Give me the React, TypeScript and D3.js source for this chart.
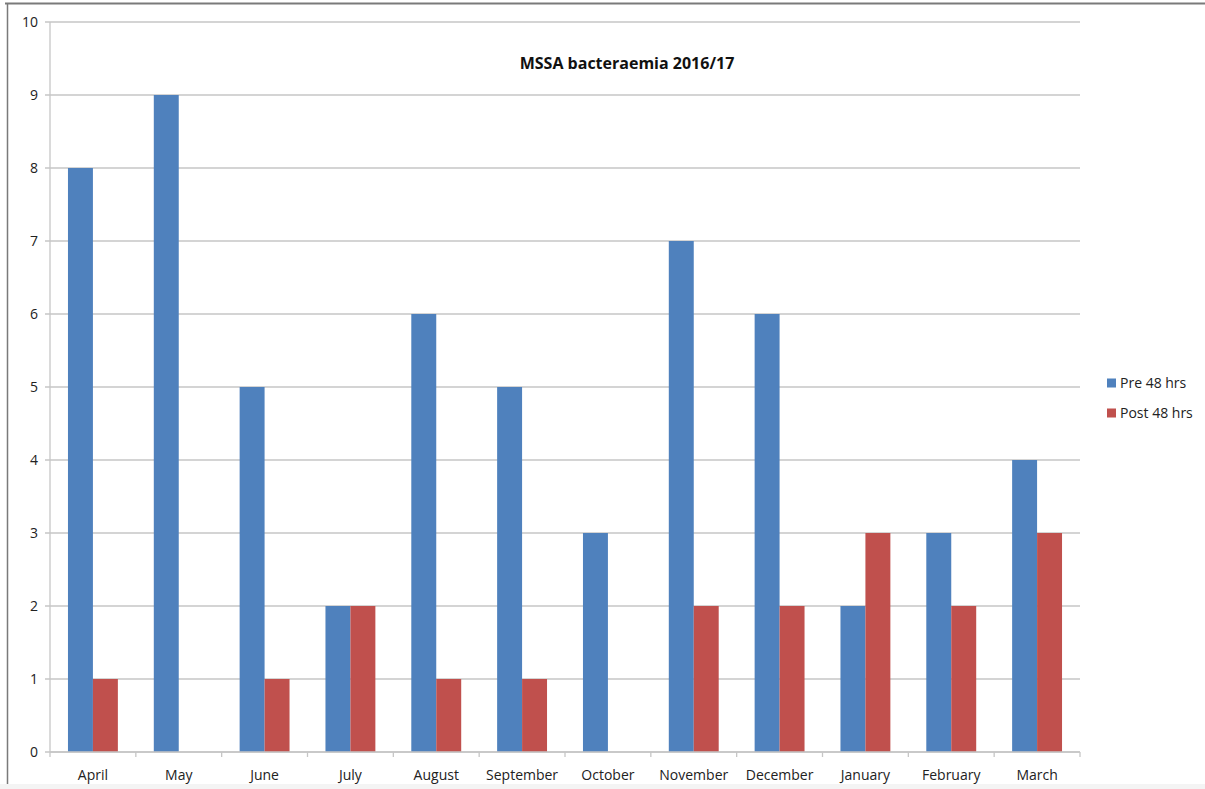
import React from "react";
import * as d3 from "d3";

const months = ["April", "May", "June", "July", "August", "September", "October", "November", "December", "January", "February", "March"];
const pre48 = [8, 9, 5, 2, 6, 5, 3, 7, 6, 2, 3, 4];
const post48 = [1, 0, 1, 2, 1, 1, 0, 2, 2, 3, 2, 3];
const seriesNames = ["Pre 48 hrs", "Post 48 hrs"];
const seriesColors = ["#4F81BD", "#C0504D"];
const yTicks = [0, 1, 2, 3, 4, 5, 6, 7, 8, 9, 10];

const W = 1205;
const H = 789;
const plot = { left: 50, right: 1080, top: 22, bottom: 752 };
const font = "'Open Sans', 'Liberation Sans', Arial, sans-serif";

export default function App() {
  const x = d3.scaleBand<string>().domain(months).range([plot.left, plot.right]).paddingInner(0).paddingOuter(0);
  const y = d3.scaleLinear().domain([0, 10]).range([plot.bottom, plot.top]);
  const inner = d3.scaleBand<number>().domain([0, 1]).range([0, x.bandwidth()]).paddingInner(0).paddingOuter(0.72);
  const series = [pre48, post48];

  return (
    <svg width={W} height={H} style={{ position: "absolute", left: 0, top: 0, background: "#fff" }}>
      <rect x={0} y={0} width={W} height={H} fill="#fff" />
      {/* outer frame */}
      <line x1={5} x2={W} y1={3.5} y2={3.5} stroke="#7a7a7a" strokeWidth={2} />
      <line x1={7.5} x2={7.5} y1={3} y2={784} stroke="#7a7a7a" strokeWidth={1.5} />
      <rect x={0} y={784} width={W} height={H - 784} fill="#f4f4f4" />

      {/* gridlines */}
      {yTicks.map((t) => (
        <line key={"g" + t} x1={plot.left - 5} x2={plot.right} y1={y(t)} y2={y(t)} stroke="#c6c6c6" strokeWidth={1.3} />
      ))}
      {/* y axis */}
      <line x1={plot.left} x2={plot.left} y1={plot.top} y2={plot.bottom} stroke="#c6c6c6" strokeWidth={1.3} />
      {yTicks.map((t) => (
        <text key={"yl" + t} x={38} y={y(t)} dy="0.35em" textAnchor="end" fontFamily={font} fontSize={14} fill="#222">
          {t}
        </text>
      ))}

      {/* bars */}
      {months.map((m, i) => (
        <g key={m}>
          {series.map((s, j) =>
            s[i] > 0 ? (
              <rect
                key={j}
                x={(x(m) as number) + (inner(j) as number)}
                y={y(s[i])}
                width={inner.bandwidth()}
                height={y(0) - y(s[i])}
                fill={seriesColors[j]}
              />
            ) : null
          )}
        </g>
      ))}

      {/* x axis */}
      <line x1={plot.left} x2={plot.right} y1={plot.bottom} y2={plot.bottom} stroke="#c6c6c6" strokeWidth={1.3} />
      {months.map((m) => (
        <line key={"t" + m} x1={x(m) as number} x2={x(m) as number} y1={plot.bottom} y2={plot.bottom + 5} stroke="#c6c6c6" strokeWidth={1.3} />
      ))}
      <line x1={plot.right} x2={plot.right} y1={plot.bottom} y2={plot.bottom + 5} stroke="#c6c6c6" strokeWidth={1.3} />
      {months.map((m) => (
        <text key={"xl" + m} x={(x(m) as number) + x.bandwidth() / 2} y={775} dy="0.35em" textAnchor="middle" fontFamily={font} fontSize={14} fill="#222">
          {m}
        </text>
      ))}

      {/* title */}
      <text x={627} y={63} dy="0.35em" textAnchor="middle" fontFamily={font} fontSize={16} fontWeight="bold" fill="#111">
        MSSA bacteraemia 2016/17
      </text>

      {/* legend */}
      {seriesNames.map((n, j) => (
        <g key={n} transform={`translate(1107, ${383 + j * 30})`}>
          <rect x={0} y={-4.5} width={9} height={9} fill={seriesColors[j]} />
          <text x={13} y={0} dy="0.35em" fontFamily={font} fontSize={14} fill="#222">
            {n}
          </text>
        </g>
      ))}
    </svg>
  );
}
